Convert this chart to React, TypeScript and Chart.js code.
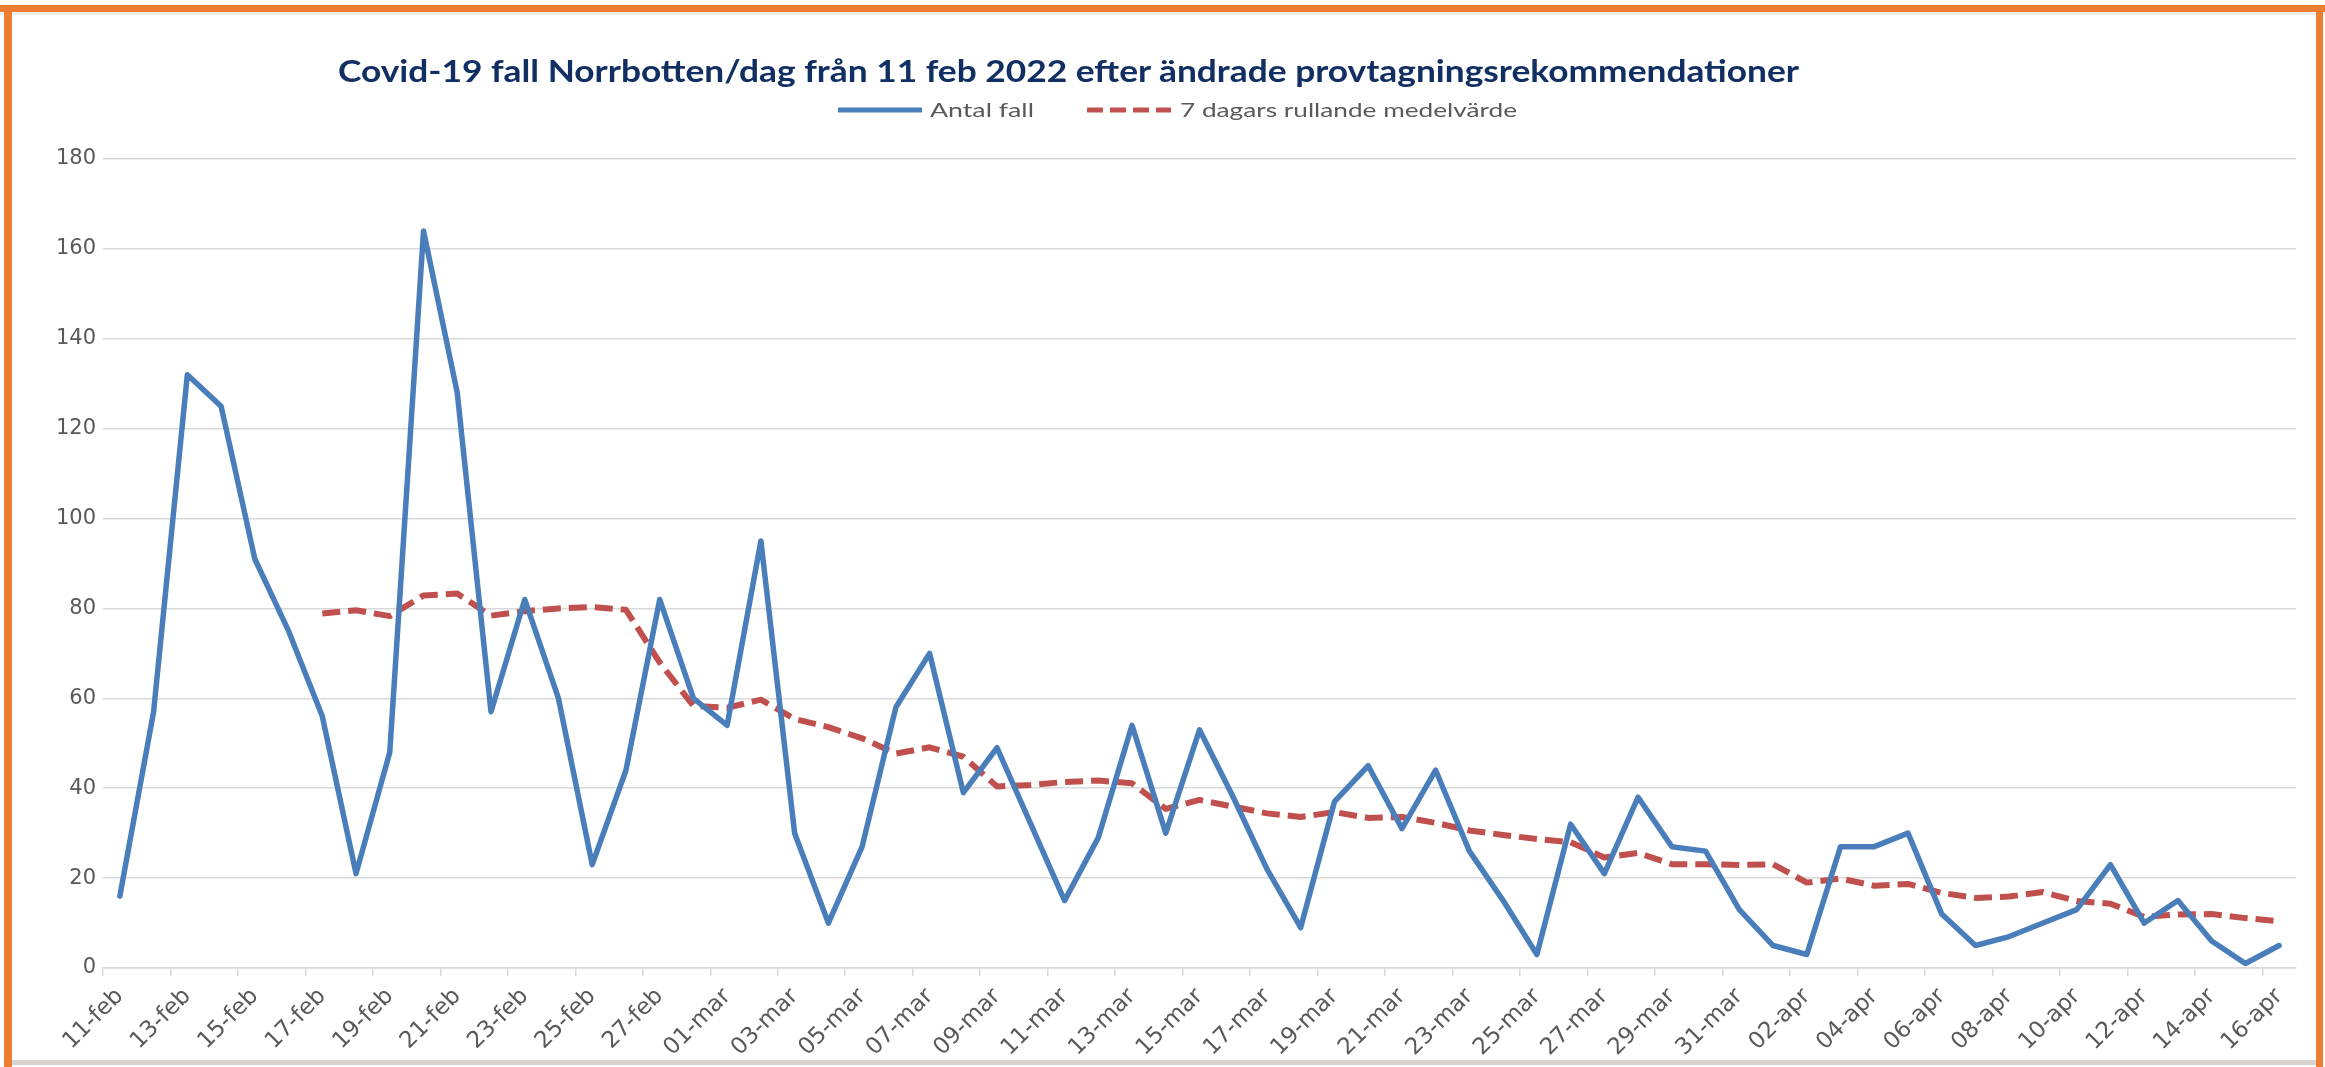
import React, { useEffect, useLayoutEffect, useRef } from 'react';
import { Chart, registerables } from 'chart.js';

Chart.register(...registerables);

const titleText = 'Covid-19 fall Norrbotten/dag från 11 feb 2022 efter ändrade provtagningsrekommendationer';
const seriesNames = ['Antal fall', '7 dagars rullande medelvärde'];

const dateLabels = [
  '11-feb', '12-feb', '13-feb', '14-feb', '15-feb', '16-feb', '17-feb', '18-feb', '19-feb', '20-feb',
  '21-feb', '22-feb', '23-feb', '24-feb', '25-feb', '26-feb', '27-feb', '28-feb',
  '01-mar', '02-mar', '03-mar', '04-mar', '05-mar', '06-mar', '07-mar', '08-mar', '09-mar', '10-mar',
  '11-mar', '12-mar', '13-mar', '14-mar', '15-mar', '16-mar', '17-mar', '18-mar', '19-mar', '20-mar',
  '21-mar', '22-mar', '23-mar', '24-mar', '25-mar', '26-mar', '27-mar', '28-mar', '29-mar', '30-mar', '31-mar',
  '01-apr', '02-apr', '03-apr', '04-apr', '05-apr', '06-apr', '07-apr', '08-apr', '09-apr', '10-apr',
  '11-apr', '12-apr', '13-apr', '14-apr', '15-apr', '16-apr',
];

const antalFall = [
  16, 57, 132, 125, 91, 75, 56, 21, 48, 164, 128, 57, 82, 60, 23, 44, 82, 60,
  54, 95, 30, 10, 27, 58, 70, 39, 49, 32, 15, 29, 54, 30, 53, 38, 22, 9, 37, 45, 31, 44, 26, 15, 3, 32, 21, 38, 27, 26, 13,
  5, 3, 27, 27, 30, 12, 5, 7, 10, 13, 23, 10, 15, 6, 1, 5,
];

const rullandeMedel = [
  null, null, null, null, null, null,
  78.9, 79.6, 78.3, 82.9, 83.3, 78.4, 79.4, 80.0, 80.3, 79.7, 68.0, 58.3,
  57.9, 59.7, 55.4, 53.6, 51.1, 47.7, 49.1, 47.0, 40.4, 40.7, 41.4, 41.7, 41.1, 35.4, 37.4, 35.9, 34.4, 33.6,
  34.7, 33.4, 33.6, 32.3, 30.6, 29.6, 28.7, 28.0, 24.6, 25.6, 23.1, 23.1, 22.9,
  23.1, 19.0, 19.9, 18.3, 18.7, 16.7, 15.6, 15.9, 16.9, 14.9, 14.3, 11.4, 11.9, 12.0, 11.1, 10.4,
];

const yMin = 0;
const yMax = 180;
const yStep = 20;

const BLUE = '#4A7EBB';
const RED = '#C0504D';
const GRID = '#D9D9D9';
const TEXT = '#595959';

function FitText(props: { x: number; y: number; w: number; font: string; color: string; text: string }) {
  const ref = useRef<HTMLSpanElement>(null);
  useLayoutEffect(() => {
    const el = ref.current;
    if (!el) return;
    el.style.transform = 'none';
    const nat = el.getBoundingClientRect().width;
    if (nat > 0) el.style.transform = `scaleX(${props.w / nat})`;
  }, [props.w, props.text, props.font]);
  return (
    <span
      ref={ref}
      style={{
        position: 'absolute',
        left: props.x,
        top: props.y,
        whiteSpace: 'nowrap',
        transformOrigin: '0 0',
        font: props.font,
        color: props.color,
        lineHeight: 1,
      }}
    >
      {props.text}
    </span>
  );
}

export default function App() {
  const canvasRef = useRef<HTMLCanvasElement>(null);

  useEffect(() => {
    const canvas = canvasRef.current;
    if (!canvas) return;
    const chart = new Chart(canvas, {
      type: 'line',
      data: {
        labels: dateLabels,
        datasets: [
          {
            label: seriesNames[0],
            data: antalFall,
            borderColor: BLUE,
            backgroundColor: BLUE,
            borderWidth: 5.5,
            pointRadius: 0,
            tension: 0,
            borderJoinStyle: 'round',
            borderCapStyle: 'round',
          },
          {
            label: seriesNames[1],
            data: rullandeMedel as any,
            borderColor: RED,
            backgroundColor: RED,
            borderWidth: 6,
            borderDash: [18, 8],
            pointRadius: 0,
            tension: 0,
            borderJoinStyle: 'round',
            spanGaps: false,
          },
        ],
      },
      options: {
        animation: false,
        responsive: false,
        maintainAspectRatio: false,
        events: [],
        layout: { padding: { left: 0, right: 29, top: 159, bottom: 0 } },
        plugins: {
          legend: { display: false },
          title: { display: false },
          tooltip: { enabled: false },
        },
        scales: {
          x: {
            type: 'category',
            offset: true,
            grid: {
              offset: true,
              drawOnChartArea: false,
              drawTicks: true,
              tickLength: 8,
              lineWidth: 1.5,
              color: (ctx: any) => (ctx.index % 2 === 0 ? GRID : 'rgba(0,0,0,0)'),
            },
            border: { display: true, color: GRID, width: 1.5 },
            ticks: {
              autoSkip: false,
              minRotation: 45,
              maxRotation: 45,
              padding: 7,
              color: TEXT,
              font: { family: 'DejaVu Sans', size: 23 },
              callback: (_v: any, i: number) => (i % 2 === 0 ? dateLabels[i] : ''),
            },
            afterFit: (s: any) => {
              s.height = 99;
            },
          },
          y: {
            min: yMin,
            max: yMax,
            ticks: {
              stepSize: yStep,
              padding: 7,
              color: TEXT,
              font: { family: 'DejaVu Sans', size: 21 },
            },
            grid: { color: GRID, lineWidth: 1.5, drawTicks: false },
            border: { display: false },
            afterFit: (s: any) => {
              s.width = 103;
            },
          },
        },
      },
    });
    return () => chart.destroy();
  }, []);

  return (
    <div
      style={{
        position: 'fixed',
        left: 0,
        top: 0,
        width: 2325,
        height: 1067,
        background: '#ffffff',
        overflow: 'hidden',
      }}
    >
      <canvas ref={canvasRef} width={2325} height={1067} style={{ position: 'absolute', left: 0, top: 0 }} />
      {/* frame */}
      <div style={{ position: 'absolute', left: 0, top: 5, width: 2325, height: 7, background: '#ED7D31' }} />
      <div style={{ position: 'absolute', left: 0, top: 12, width: 2325, height: 3, background: '#EDEDED' }} />
      <div style={{ position: 'absolute', left: 4, top: 5, width: 8, height: 1062, background: '#ED7D31' }} />
      <div style={{ position: 'absolute', left: 2316, top: 5, width: 7, height: 1062, background: '#ED7D31' }} />
      <div style={{ position: 'absolute', left: 12, top: 1060, width: 2304, height: 5, background: '#D9D2CC' }} />
      {/* title */}
      <FitText x={338} y={55} w={1461} font="bold 30px Lato" color="#112F63" text={titleText} />
      {/* legend */}
      <svg style={{ position: 'absolute', left: 838, top: 104, width: 84, height: 12 }}>
        <line x1={0} y1={6} x2={84} y2={6} stroke={BLUE} strokeWidth={5} />
      </svg>
      <FitText x={930} y={99} w={104} font="20px Lato" color={TEXT} text={seriesNames[0]} />
      <svg style={{ position: 'absolute', left: 1087, top: 104, width: 84, height: 12 }}>
        <line x1={0} y1={6} x2={84} y2={6} stroke={RED} strokeWidth={5} strokeDasharray="16 7" />
      </svg>
      <FitText x={1180} y={99} w={337} font="20px Lato" color={TEXT} text={seriesNames[1]} />
    </div>
  );
}
